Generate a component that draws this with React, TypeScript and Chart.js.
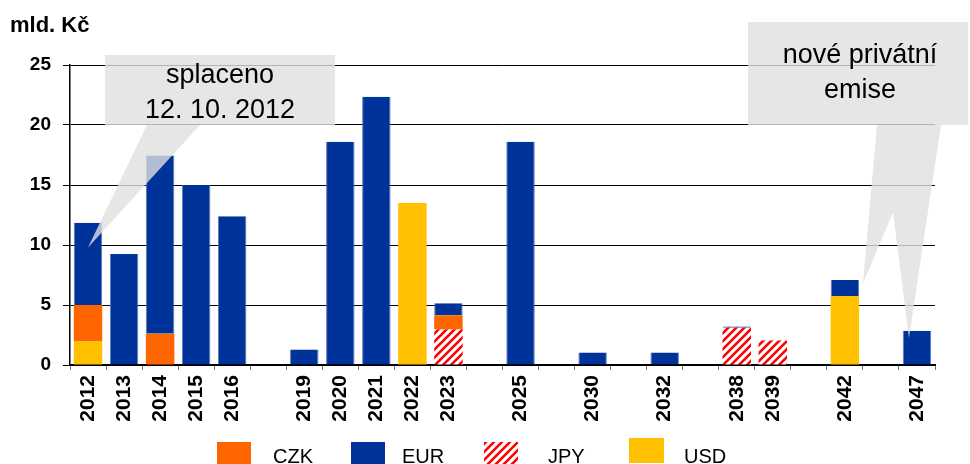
import React, { useEffect, useRef } from "react";
import { Chart, registerables } from "chart.js";

Chart.register(...registerables);

const categories = ["2012", "2013", "2014", "2015", "2016", "", "2019", "2020", "2021", "2022", "2023", "", "2025", "", "2030", "", "2032", "", "2038", "2039", "", "2042", "", "2047"];

const jpyValues = [null, null, null, null, null, null, null, null, null, null, 2.95, null, null, null, null, null, null, null, 3.1, 2.05, null, null, null, null];
const usdValues = [1.95, null, null, null, null, null, null, null, null, 13.5, null, null, null, null, null, null, null, null, null, null, null, 5.75, null, null];
const czkValues = [3.05, null, 2.6, null, null, null, null, null, null, null, 1.2, null, null, null, null, null, null, null, null, null, null, null, null, null];
const eurValues = [6.85, 9.25, 14.85, 15.0, 12.4, null, 1.3, 18.6, 22.35, null, 1.0, null, 18.6, null, 1.05, null, 1.05, null, 0.1, null, null, 1.33, null, 2.85];

const legendOrder = ["CZK", "EUR", "JPY", "USD"];
const yTitle = "mld. Kč";
const callout1Lines = ["splaceno", "12. 10. 2012"];
const callout2Lines = ["nové privátní", "emise"];

const FONT = "'Liberation Sans', Arial, sans-serif";
const EUR_COLOR = "#003399";
const CZK_COLOR = "#FF6600";
const USD_COLOR = "#FFC000";

function makeStripePattern(): CanvasPattern | string {
  const pc = document.createElement("canvas");
  pc.width = 8;
  pc.height = 8;
  const c = pc.getContext("2d");
  if (!c) return "#f00";
  c.fillStyle = "#fff";
  c.fillRect(0, 0, 8, 8);
  c.strokeStyle = "#ff0000";
  c.lineWidth = 2.6;
  c.beginPath();
  c.moveTo(-2, 10); c.lineTo(10, -2);
  c.moveTo(-6, 6); c.lineTo(6, -6);
  c.moveTo(2, 14); c.lineTo(14, 2);
  c.stroke();
  const p = c.createPattern(pc, "repeat");
  return p || "#f00";
}

export default function App() {
  const ref = useRef<HTMLCanvasElement | null>(null);

  useEffect(() => {
    if (!ref.current) return;
    const stripe = makeStripePattern();

    const annotPlugin = {
      id: "annot",
      afterDatasetsDraw(chart: any) {
        const ctx = chart.ctx as CanvasRenderingContext2D;
        const xs = chart.scales.x;
        const ys = chart.scales.y;
        ctx.save();
        ctx.fillStyle = "rgba(224,224,224,0.8)";
        // callout 1
        const t1x = xs.getPixelForValue(0);
        const t1y = ys.getPixelForValue(9.8);
        ctx.beginPath();
        ctx.moveTo(105, 55); ctx.lineTo(335, 55); ctx.lineTo(335, 125);
        ctx.lineTo(200, 125); ctx.lineTo(t1x, t1y); ctx.lineTo(147, 125);
        ctx.lineTo(105, 125); ctx.closePath();
        ctx.fill();
        // callout 2
        const aX = xs.getPixelForValue(21) + 18;
        const aY = ys.getPixelForValue(6.8);
        const bX = xs.getPixelForValue(23) - 8;
        const bY = ys.getPixelForValue(2.25);
        ctx.beginPath();
        ctx.rect(748, 22, 220, 103);
        ctx.moveTo(877, 125); ctx.lineTo(930, 125); ctx.lineTo(aX, aY); ctx.closePath();
        ctx.moveTo(882, 125); ctx.lineTo(941, 125); ctx.lineTo(bX, bY); ctx.closePath();
        ctx.fill("nonzero");
        // texts
        ctx.fillStyle = "#000";
        ctx.font = `27px ${FONT}`;
        ctx.textAlign = "center";
        ctx.textBaseline = "alphabetic";
        ctx.fillText(callout1Lines[0], 220, 83);
        ctx.fillText(callout1Lines[1], 220, 118);
        ctx.fillText(callout2Lines[0], 860, 63);
        ctx.fillText(callout2Lines[1], 860, 98);
        ctx.restore();
      },
      afterDraw(chart: any) {
        const ctx = chart.ctx as CanvasRenderingContext2D;
        ctx.save();
        ctx.fillStyle = "#000";
        ctx.font = `bold 22px ${FONT}`;
        ctx.textAlign = "left";
        ctx.textBaseline = "alphabetic";
        ctx.fillText(yTitle, 10, 32);
        // legend
        const boxX = [217, 351, 484, 629];
        const textX = [273, 402, 548, 684];
        ctx.font = `20px ${FONT}`;
        legendOrder.forEach((name, i) => {
          const ds = chart.data.datasets.find((d: any) => d.label === name);
          ctx.fillStyle = ds.backgroundColor;
          if (name === "USD") ctx.fillRect(boxX[i], 438, 35, 25);
          else ctx.fillRect(boxX[i], 442, 34, 22);
          ctx.fillStyle = "#000";
          ctx.fillText(name, textX[i], 463);
        });
        ctx.restore();
      },
    };

    const chart = new Chart(ref.current, {
      type: "bar",
      data: {
        labels: categories,
        datasets: [
          { label: "JPY", data: jpyValues, backgroundColor: stripe as any, barPercentage: 0.79, categoryPercentage: 1 },
          { label: "USD", data: usdValues, backgroundColor: USD_COLOR, barPercentage: 0.79, categoryPercentage: 1 },
          { label: "CZK", data: czkValues, backgroundColor: CZK_COLOR, barPercentage: 0.79, categoryPercentage: 1 },
          {
            label: "EUR", data: eurValues, backgroundColor: EUR_COLOR, barPercentage: 0.79, categoryPercentage: 1,
            borderColor: "#5a78c0", borderWidth: { left: 1, right: 1, top: 0, bottom: 0 } as any, borderSkipped: false as any,
          },
        ],
      },
      options: {
        responsive: false,
        animation: false,
        layout: { padding: { left: 0, right: 35, top: 65, bottom: 0 } },
        plugins: { legend: { display: false }, tooltip: { enabled: false }, title: { display: false } },
        scales: {
          x: {
            stacked: true,
            offset: true,
            grid: { offset: true, drawOnChartArea: false, drawTicks: true, tickLength: 5, color: "#777" },
            border: { display: true, color: "#000", width: 2 },
            ticks: {
              autoSkip: false, minRotation: 90, maxRotation: 90, padding: 5, color: "#000",
              font: { family: FONT, size: 21, weight: "bold" },
            },
            afterFit: (s: any) => { s.height = 99; },
          },
          y: {
            stacked: true,
            min: 0,
            max: 25,
            ticks: { stepSize: 5, padding: 12, color: "#000", font: { family: FONT, size: 19, weight: "bold" } },
            grid: { color: "#000", lineWidth: 1, tickLength: 7, drawTicks: true },
            border: { display: true, color: "#000", width: 1.5 },
            afterFit: (s: any) => { s.width = 70; },
          },
        },
      },
      plugins: [annotPlugin],
    });
    return () => chart.destroy();
  }, []);

  return (
    <div style={{ position: "absolute", left: 0, top: 0, width: 970, height: 464, background: "#fff" }}>
      <canvas ref={ref} width={970} height={464} style={{ display: "block", width: 970, height: 464 }} />
    </div>
  );
}
